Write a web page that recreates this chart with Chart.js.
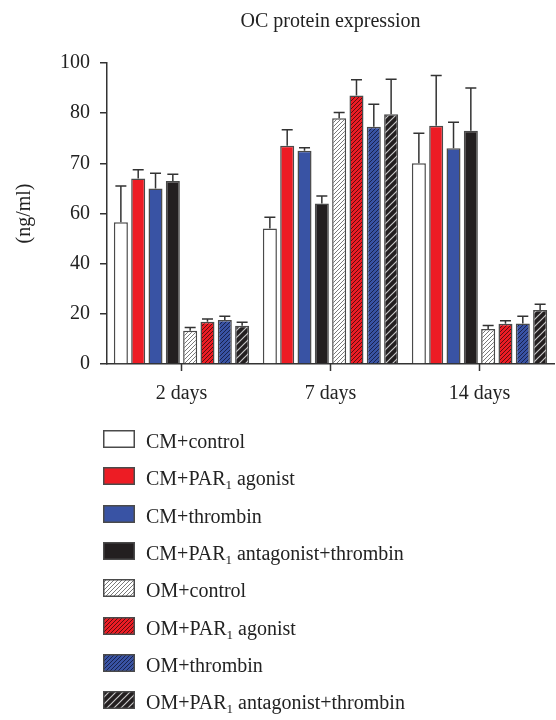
<!DOCTYPE html>
<html>
<head>
<meta charset="utf-8">
<script src="https://cdn.jsdelivr.net/npm/chart.js@4.4.0/dist/chart.umd.min.js"></script>
<style>
  body { margin: 0; background: #fff; }
  #wrap { position: relative; width: 556px; height: 720px; }
  #chart { position: absolute; left: 0; top: 0; }
  #legend { position: absolute; left: 0; top: 0; width: 556px; height: 720px; pointer-events: none; }
  .row { position: absolute; left: 103px; height: 18px; display: flex; align-items: center; }
  .row canvas { display: block; }
  .row span.txt { margin-left: 11px; font: 20px "Liberation Serif", serif; color: #222; line-height: 18px; padding-top: 4px; white-space: nowrap; }
  .row span.sub { font-size: 13px; vertical-align: -4px; line-height: 0; }
</style>
</head>
<body>
<div id="wrap">
  <canvas id="chart" width="556" height="420"></canvas>
  <div id="legend"></div>
</div>
<script>
// Datos (ng/ml)
const days = ['2 days', '7 days', '14 days'];
const yBreaks = [0, 20, 40, 60, 70, 80, 100];

const cmControl = [56.5, 54.0, 70.0];
const cmAgonist = [67.0, 73.5, 77.5];
const cmThrombin = [65.0, 72.5, 73.0];
const cmAntagonist = [66.5, 62.0, 76.5];
const omControl = [13.3, 79.0, 14.0];
const omAgonist = [16.8, 87.0, 16.0];
const omThrombin = [17.5, 77.3, 16.1];
const omAntagonist = [15.2, 79.8, 21.5];

const cmControlErr = [9.0, 4.5, 6.0];
const cmAgonistErr = [1.7, 3.2, 17.5];
const cmThrombinErr = [3.0, 0.6, 5.2];
const cmAntagonistErr = [1.3, 1.5, 13.5];
const omControlErr = [1.3, 1.3, 1.3];
const omAgonistErr = [1.1, 6.3, 1.2];
const omThrombinErr = [1.5, 6.3, 2.9];
const omAntagonistErr = [1.4, 13.7, 2.3];

const seriesLabels = [
  'CM+control', 'CM+PAR₁ agonist', 'CM+thrombin', 'CM+PAR₁ antagonist+thrombin',
  'OM+control', 'OM+PAR₁ agonist', 'OM+thrombin', 'OM+PAR₁ antagonist+thrombin'
];

const RED = '#ED1C24';
const BLUE = '#3953A4';
const BLACK = '#231F20';
const EDGE = '#4a4a4a';
const FONT = '"Liberation Serif", serif';

// eje partido: cada tramo entre cortes ocupa el mismo alto
function toAxis(v) {
  for (let i = 0; i < yBreaks.length - 1; i++) {
    if (v <= yBreaks[i + 1]) {
      return i + (v - yBreaks[i]) / (yBreaks[i + 1] - yBreaks[i]);
    }
  }
  return yBreaks.length - 1;
}

function makeHatch(bg, line, size, lw) {
  const c = document.createElement('canvas');
  c.width = size;
  c.height = size;
  const g = c.getContext('2d');
  g.fillStyle = bg;
  g.fillRect(0, 0, size, size);
  g.strokeStyle = line;
  g.lineWidth = lw;
  g.beginPath();
  g.moveTo(0, size); g.lineTo(size, 0);
  g.moveTo(-1, 1); g.lineTo(1, -1);
  g.moveTo(size - 1, size + 1); g.lineTo(size + 1, size - 1);
  g.stroke();
  return g.createPattern(c, 'repeat');
}

const means = [cmControl, cmAgonist, cmThrombin, cmAntagonist, omControl, omAgonist, omThrombin, omAntagonist];
const errors = [cmControlErr, cmAgonistErr, cmThrombinErr, cmAntagonistErr, omControlErr, omAgonistErr, omThrombinErr, omAntagonistErr];

const fillList = [
  '#ffffff', RED, BLUE, BLACK,
  makeHatch('#ffffff', '#7a7a7a', 4, 1),
  makeHatch(RED, '#5c0d10', 4, 1),
  makeHatch(BLUE, '#18224d', 4, 1),
  makeHatch(BLACK, '#c8c8c8', 7, 1.2)
];

const ctx = document.getElementById('chart').getContext('2d');

const datasets = means.map((vals, i) => ({
  label: seriesLabels[i],
  data: vals.map(toAxis),
  raw: vals,
  err: errors[i],
  backgroundColor: fillList[i],
  borderColor: EDGE,
  borderWidth: 1.5,
  categoryPercentage: 0.93,
  barPercentage: 0.81
}));

const errorBars = {
  id: 'errorBars',
  afterDatasetsDraw(chart) {
    const c = chart.ctx;
    const y = chart.scales.y;
    c.save();
    c.strokeStyle = '#333';
    c.lineWidth = 1.5;
    chart.data.datasets.forEach((ds, i) => {
      chart.getDatasetMeta(i).data.forEach((bar, j) => {
        const top = y.getPixelForValue(toAxis(ds.raw[j] + ds.err[j]));
        c.beginPath();
        c.moveTo(bar.x, bar.y);
        c.lineTo(bar.x, top);
        c.moveTo(bar.x - 5.5, top);
        c.lineTo(bar.x + 5.5, top);
        c.stroke();
      });
    });
    c.restore();
  }
};

// titulo centrado sobre el area del grafico + marcas del eje x en el centro de cada grupo
const extras = {
  id: 'extras',
  afterDraw(chart) {
    const c = chart.ctx;
    const a = chart.chartArea;
    const x = chart.scales.x;
    c.save();
    c.fillStyle = '#222';
    c.font = '20px ' + FONT;
    c.textAlign = 'center';
    c.textBaseline = 'alphabetic';
    c.fillText('OC protein expression', (a.left + a.right) / 2, 27);
    c.strokeStyle = '#333';
    c.lineWidth = 1.5;
    days.forEach((d, i) => {
      const px = x.getPixelForTick(i);
      c.beginPath();
      c.moveTo(px, a.bottom);
      c.lineTo(px, a.bottom + 7);
      c.stroke();
    });
    c.restore();
  }
};

new Chart(ctx, {
  type: 'bar',
  data: { labels: days, datasets },
  options: {
    responsive: false,
    animation: false,
    events: [],
    layout: { padding: { top: 63, right: 2, left: 0, bottom: 0 } },
    plugins: { legend: { display: false }, tooltip: { enabled: false } },
    scales: {
      x: {
        grid: { display: false },
        border: { display: true, color: '#333', width: 1.5 },
        ticks: { color: '#222', font: { family: FONT, size: 20 }, padding: 10 },
        afterFit(scale) { scale.height = 56; }
      },
      y: {
        min: 0,
        max: yBreaks.length - 1,
        grid: { display: true, drawOnChartArea: false, drawTicks: true, tickLength: 7, color: '#333', lineWidth: 1.5 },
        border: { display: true, color: '#333', width: 1.5 },
        ticks: {
          stepSize: 1,
          color: '#222',
          font: { family: FONT, size: 20 },
          padding: 10,
          callback: (v) => yBreaks[v]
        },
        title: { display: true, text: '(ng/ml)', color: '#222', font: { family: FONT, size: 20 }, padding: { top: 13, bottom: 0 } },
        afterFit(scale) { scale.width = 107; }
      }
    }
  },
  plugins: [errorBars, extras]
});

// Leyenda en HTML (para el subindice de PAR1)
function buildLegend() {
  const box = document.getElementById('legend');
  seriesLabels.forEach((label, i) => {
    const row = document.createElement('div');
    row.className = 'row';
    row.style.top = (430 + i * 37.3) + 'px';
    const sw = document.createElement('canvas');
    sw.width = 32;
    sw.height = 18;
    const g = sw.getContext('2d');
    g.fillStyle = fillList[i];
    g.fillRect(0, 0, 32, 18);
    g.strokeStyle = EDGE;
    g.lineWidth = 1.5;
    g.strokeRect(0.75, 0.75, 30.5, 16.5);
    row.appendChild(sw);
    const txt = document.createElement('span');
    txt.className = 'txt';
    const parts = label.split('₁');
    txt.appendChild(document.createTextNode(parts[0]));
    if (parts.length > 1) {
      const sub = document.createElement('span');
      sub.className = 'sub';
      sub.textContent = '1';
      txt.appendChild(sub);
      txt.appendChild(document.createTextNode(parts[1]));
    }
    row.appendChild(txt);
    box.appendChild(row);
  });
}
buildLegend();
</script>
</body>
</html>
